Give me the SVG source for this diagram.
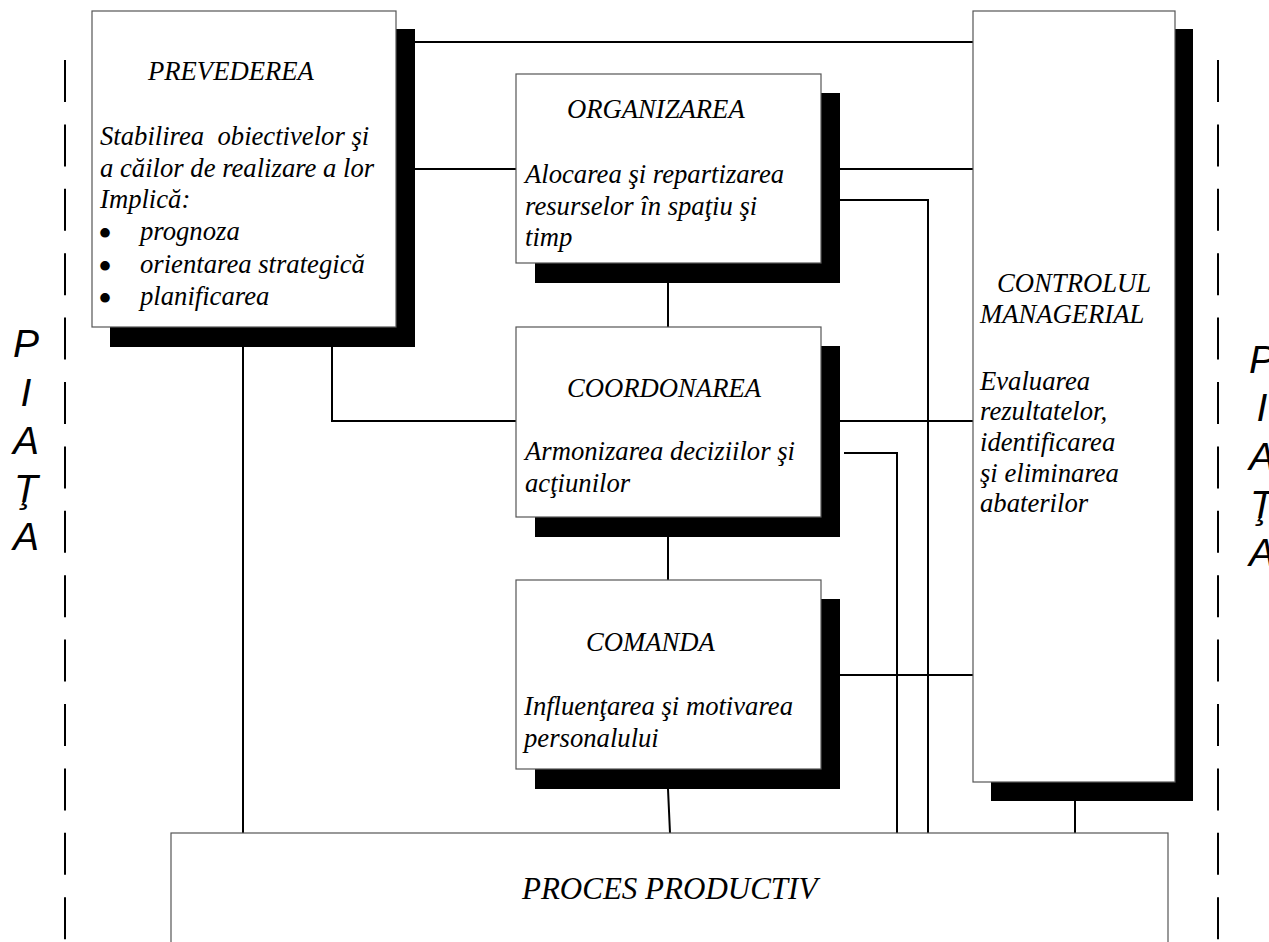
<svg xmlns="http://www.w3.org/2000/svg" width="1269" height="942" viewBox="0 0 1269 942">
<style>
.box{fill:#fff;stroke:#555;stroke-width:1.2}
.shadow{fill:#000}
.t{font-family:"Liberation Serif","Times New Roman",serif;font-style:italic;font-size:26.67px;fill:#000}
.b{font-family:"Liberation Serif","Times New Roman",serif;font-size:40px;fill:#000}
.side{font-family:"Liberation Sans",Arial,sans-serif;font-style:italic;font-size:39px;fill:#000;text-anchor:middle}
.conn{fill:none;stroke:#000;stroke-width:2}
.dash{fill:none;stroke:#000;stroke-width:2;stroke-dasharray:42 22.4}
</style>
<rect width="1269" height="942" fill="#fff"/>
<g id="market-left">
<line class="dash" x1="65" y1="60" x2="65" y2="942"/>
<text class="side" x="26" y="357">P</text>
<text class="side" x="26" y="406">I</text>
<text class="side" x="26" y="454">A</text>
<text class="side" x="26" y="502">Ţ</text>
<text class="side" x="26" y="550">A</text>
</g>
<g id="market-right">
<line class="dash" x1="1218" y1="60" x2="1218" y2="942"/>
<text class="side" x="1262" y="373">P</text>
<text class="side" x="1262" y="421">I</text>
<text class="side" x="1262" y="470">A</text>
<text class="side" x="1262" y="518">Ţ</text>
<text class="side" x="1262" y="566">A</text>
</g>
<g id="connectors">
<polyline class="conn" points="396,42 973,42"/>
<polyline class="conn" points="396,169 973,169"/>
<polyline class="conn" points="243,327 243,833"/>
<polyline class="conn" points="332,327 332,421 973,421"/>
<polyline class="conn" points="668,263 668,789 670,833"/>
<polyline class="conn" points="821,200 928,200 928,833"/>
<polyline class="conn" points="844,453 897,453 897,833"/>
<polyline class="conn" points="821,675 973,675"/>
<polyline class="conn" points="1075,782 1075,833"/>
</g>
<g id="prevederea">
<rect class="shadow" x="110" y="29" width="305" height="318"/>
<rect class="box" x="92" y="11" width="304" height="316"/>
<text class="t" x="148" y="80">PREVEDEREA</text>
<text class="t" x="100" y="145" xml:space="preserve">Stabilirea  obiectivelor şi</text>
<text class="t" x="100" y="177">a căilor de realizare a lor</text>
<text class="t" x="100" y="208">Implică:</text>
<text class="b" x="98" y="247">•</text>
<text class="t" x="140" y="240">prognoza</text>
<text class="b" x="98" y="280">•</text>
<text class="t" x="140" y="273">orientarea strategică</text>
<text class="b" x="98" y="312">•</text>
<text class="t" x="140" y="305">planificarea</text>
</g>
<g id="organizarea">
<rect class="shadow" x="535" y="93" width="305" height="190"/>
<rect class="box" x="516" y="74" width="305" height="189"/>
<text class="t" x="567" y="118">ORGANIZAREA</text>
<text class="t" x="525" y="183">Alocarea şi repartizarea</text>
<text class="t" x="525" y="215">resurselor în spaţiu şi</text>
<text class="t" x="525" y="246">timp</text>
</g>
<g id="coordonarea">
<rect class="shadow" x="535" y="346" width="305" height="191"/>
<rect class="box" x="516" y="327" width="305" height="190"/>
<text class="t" x="567" y="397">COORDONAREA</text>
<text class="t" x="525" y="460">Armonizarea deciziilor şi</text>
<text class="t" x="525" y="492">acţiunilor</text>
</g>
<g id="comanda">
<rect class="shadow" x="535" y="599" width="305" height="190"/>
<rect class="box" x="516" y="580" width="305" height="189"/>
<text class="t" x="586" y="651">COMANDA</text>
<text class="t" x="524" y="715">Influenţarea şi motivarea</text>
<text class="t" x="524" y="747">personalului</text>
</g>
<g id="controlul">
<rect class="shadow" x="991" y="29" width="202" height="772"/>
<rect class="box" x="973" y="11" width="202" height="771"/>
<text class="t" x="997" y="292">CONTROLUL</text>
<text class="t" x="980" y="323">MANAGERIAL</text>
<text class="t" x="980" y="390">Evaluarea</text>
<text class="t" x="980" y="420">rezultatelor,</text>
<text class="t" x="980" y="451">identificarea</text>
<text class="t" x="980" y="482">şi eliminarea</text>
<text class="t" x="980" y="512">abaterilor</text>
</g>
<g id="proces">
<rect class="box" x="171" y="833" width="997" height="140"/>
<text class="t" x="522" y="899" style="font-size:31px">PROCES PRODUCTIV</text>
</g>
</svg>
